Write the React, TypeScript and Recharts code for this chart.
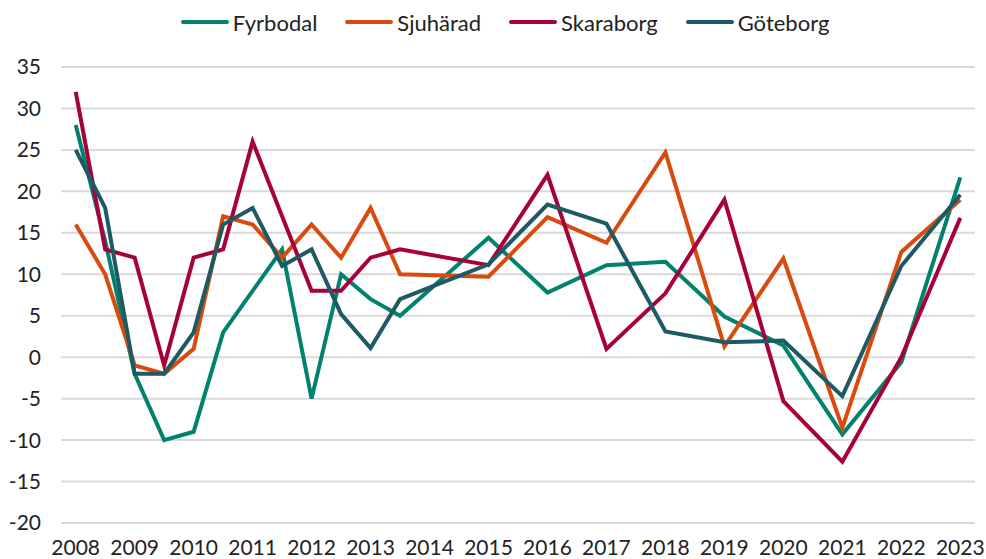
import React from 'react';
import {
  CartesianGrid,
  Legend,
  Line,
  LineChart,
  XAxis,
  YAxis,
} from 'recharts';

// half-year steps up to 2013, then whole years
const periods = [
  '2008', '2008:2', '2009', '2009:2', '2010', '2010:2', '2011', '2011:2',
  '2012', '2012:2', '2013', '2013:2', '2014', '2014:2', '2015', '2015:2',
  '2016', '2016:2', '2017', '2017:2', '2018', '2018:2', '2019', '2019:2',
  '2020', '2020:2', '2021', '2021:2', '2022', '2022:2', '2023',
];

const fyrbodal = [
  28, 14, -2, -10, -9, 3, 8, 13, -5, 10, 7, 5, null, null, 14.4, null,
  7.8, null, 11.1, null, 11.5, null, 4.9, null, 1.4, null, -9.3, null, -0.6, null, 21.7,
];
const sjuharad = [
  16, 10, -1, -2, 1, 17, 16, 12, 16, 12, 18, 10, null, null, 9.7, null,
  16.9, null, 13.8, null, 24.7, null, 1.3, null, 11.9, null, -8.5, null, 12.7, null, 19,
];
const skaraborg = [
  32, 13, 12, -1, 12, 13, 26, 17, 8, 8, 12, 13, null, null, 11.1, null,
  22, null, 1, null, 7.7, null, 19, null, -5.3, null, -12.6, null, 0, null, 16.8,
];
const goteborg = [
  25, 18, -2, -2, 3, 16, 18, 11, 13, 5.2, 1.1, 7, null, null, 11.2, null,
  18.4, null, 16.1, null, 3.1, null, 1.8, null, 2, null, -4.7, null, 11, null, 19.6,
];

const yTicks = [-20, -15, -10, -5, 0, 5, 10, 15, 20, 25, 30, 35];

const series = [
  { key: 'Fyrbodal', values: fyrbodal, color: '#00826F' },
  { key: 'Sjuhärad', values: sjuharad, color: '#D94A0E' },
  { key: 'Skaraborg', values: skaraborg, color: '#A8003B' },
  { key: 'Göteborg', values: goteborg, color: '#1E5A63' },
];

const data = periods.map((period, i) => {
  const row: Record<string, string | number | null> = { period };
  series.forEach((s) => {
    row[s.key] = s.values[i];
  });
  return row;
});

const FONT = 'Lato, "Noto Sans", sans-serif';
const TEXT = '#222222';

const LegendContent = () => (
  <div
    style={{
      height: 44,
      display: 'flex',
      alignItems: 'center',
      justifyContent: 'center',
      paddingLeft: 24,
      fontFamily: FONT,
      fontSize: 22,
      color: TEXT,
    }}
  >
    {series.map((s) => (
      <div key={s.key} style={{ display: 'flex', alignItems: 'center', margin: '0 14px' }}>
        <span
          style={{
            display: 'inline-block',
            width: 48,
            height: 4,
            borderRadius: 2,
            background: s.color,
            marginRight: 4,
          }}
        />
        <span>{s.key}</span>
      </div>
    ))}
  </div>
);

const App: React.FC = () => {
  return (
    <div style={{ position: 'absolute', left: 0, top: 0, width: 986, height: 559 }}>
      <LineChart
        width={986}
        height={559}
        data={data}
        margin={{ top: 23, right: 11, left: 0, bottom: 6 }}
      >
        <CartesianGrid vertical={false} stroke="#D9D9D9" strokeWidth={2} />
        <XAxis
          dataKey="period"
          interval={1}
          tickFormatter={(v: string) => v.slice(0, 4)}
          axisLine={false}
          tickLine={false}
          tickSize={0}
          tickMargin={17}
          height={30}
          padding={{ left: 14.7, right: 14.7 }}
          tick={{ fill: TEXT, fontSize: 21, fontFamily: FONT }}
        />
        <YAxis
          domain={[-20, 35]}
          ticks={yTicks}
          interval={0}
          axisLine={false}
          tickLine={false}
          tickSize={0}
          tickMargin={20}
          width={61}
          tick={{ fill: TEXT, fontSize: 21, fontFamily: FONT }}
        />
        <Legend
          verticalAlign="top"
          content={<LegendContent />}
          wrapperStyle={{ top: 0, left: 0, width: 986 }}
        />
        {series.map((s) => (
          <Line
            key={s.key}
            type="linear"
            dataKey={s.key}
            stroke={s.color}
            strokeWidth={4}
            dot={false}
            activeDot={false}
            connectNulls
            isAnimationActive={false}
          />
        ))}
      </LineChart>
    </div>
  );
};

export default App;
